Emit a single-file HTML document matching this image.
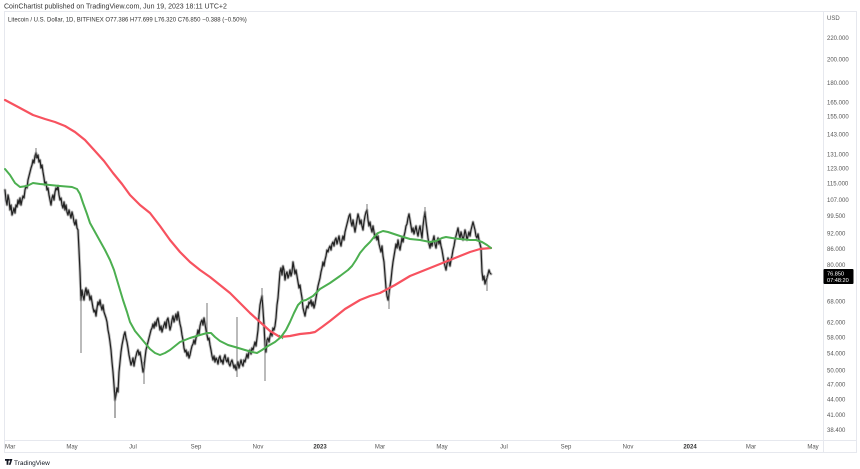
<!DOCTYPE html>
<html><head><meta charset="utf-8"><style>
html,body{margin:0;padding:0;background:#fff;}
svg{display:block;font-family:"Liberation Sans",sans-serif;}
</style></head><body>
<svg width="860" height="469" viewBox="0 0 860 469" xmlns="http://www.w3.org/2000/svg">
<rect width="860" height="469" fill="#fff"/>
<text x="4" y="8.5" font-size="7" fill="#333">CoinChartist published on TradingView.com, Jun 19, 2023 18:11 UTC+2</text>
<!-- frame -->
<rect x="4.5" y="11.5" width="852" height="441" fill="none" stroke="#e6e8ee" stroke-width="1"/>
<line x1="4" y1="440.5" x2="857" y2="440.5" stroke="#e6e8ee"/>
<line x1="823.5" y1="11" x2="823.5" y2="452" stroke="#e6e8ee"/>
<text x="8" y="21.5" font-size="6" fill="#333">Litecoin / U.S. Dollar, 1D, BITFINEX  O77.386  H77.699  L76.320  C76.850  −0.388 (−0.50%)</text>

<!-- price axis -->
<g font-size="6" fill="#555">
<text x="827" y="20">USD</text>
<text x="827" y="40">220.000</text>
<text x="827" y="61.4">200.000</text>
<text x="827" y="85.1">180.000</text>
<text x="827" y="104.6">165.000</text>
<text x="827" y="118.6">155.000</text>
<text x="827" y="136.7">143.000</text>
<text x="827" y="156.4">131.000</text>
<text x="827" y="170.5">123.000</text>
<text x="827" y="185.6">115.000</text>
<text x="827" y="201.8">107.000</text>
<text x="827" y="218.1">99.500</text>
<text x="827" y="235.7">92.000</text>
<text x="827" y="250.9">86.000</text>
<text x="827" y="267.1">80.000</text>
<text x="827" y="303.6">68.000</text>
<text x="827" y="324.4">62.000</text>
<text x="827" y="339.3">58.000</text>
<text x="827" y="355.4">54.000</text>
<text x="827" y="372.6">50.000</text>
<text x="827" y="386.5">47.000</text>
<text x="827" y="401.3">44.000</text>
<text x="827" y="417.2">41.000</text>
<text x="827" y="431.9">38.400</text>
</g>
<rect x="823.5" y="269" width="30" height="15" fill="#000" rx="1"/>
<text x="827" y="275.5" font-size="5.6" fill="#fff">76.850</text>
<text x="827" y="282" font-size="5.6" fill="#fff">07:48:20</text>

<!-- time axis -->
<g font-size="6" fill="#555" text-anchor="middle">
<text x="72" y="448.5">May</text>
<text x="133" y="448.5">Jul</text>
<text x="196" y="448.5">Sep</text>
<text x="258" y="448.5">Nov</text>
<text x="320" y="448.5" font-weight="bold" fill="#333">2023</text>
<text x="380" y="448.5">Mar</text>
<text x="442" y="448.5">May</text>
<text x="504" y="448.5">Jul</text>
<text x="566" y="448.5">Sep</text>
<text x="628" y="448.5">Nov</text>
<text x="690" y="448.5" font-weight="bold" fill="#333">2024</text>
<text x="751" y="448.5">Mar</text>
<text x="813" y="448.5">May</text>
</g>
<svg x="5" y="440" width="20" height="12"><text x="0" y="8.5" font-size="6" fill="#555">Mar</text></svg>

<!-- price series -->
<g fill="none" stroke-linejoin="round" stroke-linecap="round">
<polyline stroke="#8a8a8a" stroke-width="3" opacity="0.55" points="5,190 6,200 7,205 8,195 9,200 10,210 11,205 12,215 13,212 14,208 15,213 16,205 17,207 18,200 19,204 20,198 21,205 22,200 23,196 24,198 25,190 26,186 27,188 28,180 29,176 30,172 31,168 32,165 33,160 34,163 35,156 36,153 37,158 38,155 39,162 40,160 41,168 42,165 43,172 44,178 45,185 46,182 47,190 48,188 49,195 50,200 51,205 52,198 53,195 54,200 55,192 56,188 57,190 58,186 59,195 60,200 61,198 62,205 63,208 64,202 65,210 66,205 67,212 68,215 69,210 70,214 71,218 72,212 73,216 74,222 75,225 76,220 77,228 78,230 79,250 80,272 81,300 82,290 83,296 84,300 85,292 86,288 87,295 88,290 89,294 90,300 91,296 92,302 93,308 94,312 95,310 96,316 97,308 98,302 99,305 100,300 101,306 102,310 103,305 104,312 105,315 106,318 107,322 108,330 109,335 110,342 111,350 112,362 113,372 114,385 115,400 116,395 117,388 118,392 119,372 120,362 121,352 122,345 123,340 124,335 125,332 126,338 127,342 128,348 129,355 130,360 131,365 132,362 133,358 134,366 135,360 136,356 137,352 138,350 139,355 140,352 141,358 142,365 143,372 144,368 145,358 146,350 147,346 148,342 149,338 150,334 151,330 152,328 153,324 154,328 155,322 156,326 157,320 158,318 159,324 160,330 161,326 162,332 163,328 164,325 165,322 166,328 167,320 168,318 169,324 170,330 171,326 172,320 173,316 174,322 175,318 176,314 177,320 178,312 179,318 180,324 181,328 182,335 183,340 184,348 185,352 186,350 187,356 188,352 189,358 190,355 191,350 192,346 193,344 194,340 195,344 196,338 197,335 198,330 199,334 200,326 201,322 202,320 203,325 204,318 205,324 206,330 207,335 208,340 209,338 210,345 211,350 212,356 213,360 214,356 215,362 216,358 217,360 218,364 219,358 220,356 221,362 222,360 223,364 224,358 225,355 226,360 227,362 228,358 229,364 230,366 231,362 232,360 233,364 234,368 235,365 236,370 237,366 238,362 239,368 240,364 241,360 242,364 243,366 244,360 245,362 246,358 247,354 248,358 249,352 250,350 251,354 252,348 253,350 254,346 255,342 256,346 257,338 258,330 259,315 260,305 261,300 262,296 263,310 264,325 265,345 266,352 267,340 268,338 269,342 270,336 271,332 272,336 273,328 274,330 275,326 276,318 277,305 278,298 279,285 280,272 281,268 282,275 283,266 284,270 285,280 286,274 287,272 288,278 289,275 290,270 291,276 292,272 293,262 294,268 295,274 296,270 297,276 298,282 299,288 300,285 301,292 302,298 303,308 304,312 305,316 306,310 307,306 308,308 309,302 310,304 311,300 312,306 313,302 314,308 315,304 316,298 317,292 318,286 319,282 320,278 321,272 322,268 323,262 324,266 325,260 326,256 327,250 328,252 329,248 330,246 331,250 332,244 333,242 334,246 335,240 336,238 337,244 338,240 339,236 340,242 341,246 342,240 343,236 344,240 345,232 346,228 347,224 348,220 349,216 350,214 351,222 352,226 353,220 354,226 355,232 356,226 357,220 358,214 359,218 360,224 361,220 362,226 363,230 364,222 365,216 366,212 367,210 368,220 369,226 370,222 371,228 372,232 373,226 374,232 375,238 376,234 377,240 378,236 379,244 380,248 381,252 382,246 383,256 384,262 385,275 386,288 387,296 388,300 389,294 390,286 391,280 392,270 393,262 394,256 395,250 396,244 397,248 398,240 399,246 400,250 401,244 402,238 403,242 404,236 405,232 406,226 407,224 408,218 409,214 410,220 411,226 412,232 413,228 414,234 415,230 416,226 417,232 418,236 419,230 420,226 421,232 422,238 423,226 424,218 425,212 426,222 427,230 428,238 429,244 430,248 431,242 432,246 433,240 434,236 435,244 436,248 437,242 438,238 439,244 440,240 441,246 442,250 443,256 444,262 445,266 446,270 447,264 448,258 449,262 450,266 451,260 452,256 453,250 454,246 455,240 456,236 457,232 458,228 459,234 460,238 461,232 462,236 463,240 464,236 465,230 466,234 467,240 468,236 469,232 470,236 471,230 472,226 473,222 474,226 475,230 476,236 477,238 478,234 479,240 480,244 481,248 482,272 483,280 484,276 485,284 486,280 487,278 488,274 489,270 490,273 491,274"/>
<polyline stroke="#222" stroke-width="1.2" points="5,190 6,200 7,205 8,195 9,200 10,210 11,205 12,215 13,212 14,208 15,213 16,205 17,207 18,200 19,204 20,198 21,205 22,200 23,196 24,198 25,190 26,186 27,188 28,180 29,176 30,172 31,168 32,165 33,160 34,163 35,156 36,153 37,158 38,155 39,162 40,160 41,168 42,165 43,172 44,178 45,185 46,182 47,190 48,188 49,195 50,200 51,205 52,198 53,195 54,200 55,192 56,188 57,190 58,186 59,195 60,200 61,198 62,205 63,208 64,202 65,210 66,205 67,212 68,215 69,210 70,214 71,218 72,212 73,216 74,222 75,225 76,220 77,228 78,230 79,250 80,272 81,300 82,290 83,296 84,300 85,292 86,288 87,295 88,290 89,294 90,300 91,296 92,302 93,308 94,312 95,310 96,316 97,308 98,302 99,305 100,300 101,306 102,310 103,305 104,312 105,315 106,318 107,322 108,330 109,335 110,342 111,350 112,362 113,372 114,385 115,400 116,395 117,388 118,392 119,372 120,362 121,352 122,345 123,340 124,335 125,332 126,338 127,342 128,348 129,355 130,360 131,365 132,362 133,358 134,366 135,360 136,356 137,352 138,350 139,355 140,352 141,358 142,365 143,372 144,368 145,358 146,350 147,346 148,342 149,338 150,334 151,330 152,328 153,324 154,328 155,322 156,326 157,320 158,318 159,324 160,330 161,326 162,332 163,328 164,325 165,322 166,328 167,320 168,318 169,324 170,330 171,326 172,320 173,316 174,322 175,318 176,314 177,320 178,312 179,318 180,324 181,328 182,335 183,340 184,348 185,352 186,350 187,356 188,352 189,358 190,355 191,350 192,346 193,344 194,340 195,344 196,338 197,335 198,330 199,334 200,326 201,322 202,320 203,325 204,318 205,324 206,330 207,335 208,340 209,338 210,345 211,350 212,356 213,360 214,356 215,362 216,358 217,360 218,364 219,358 220,356 221,362 222,360 223,364 224,358 225,355 226,360 227,362 228,358 229,364 230,366 231,362 232,360 233,364 234,368 235,365 236,370 237,366 238,362 239,368 240,364 241,360 242,364 243,366 244,360 245,362 246,358 247,354 248,358 249,352 250,350 251,354 252,348 253,350 254,346 255,342 256,346 257,338 258,330 259,315 260,305 261,300 262,296 263,310 264,325 265,345 266,352 267,340 268,338 269,342 270,336 271,332 272,336 273,328 274,330 275,326 276,318 277,305 278,298 279,285 280,272 281,268 282,275 283,266 284,270 285,280 286,274 287,272 288,278 289,275 290,270 291,276 292,272 293,262 294,268 295,274 296,270 297,276 298,282 299,288 300,285 301,292 302,298 303,308 304,312 305,316 306,310 307,306 308,308 309,302 310,304 311,300 312,306 313,302 314,308 315,304 316,298 317,292 318,286 319,282 320,278 321,272 322,268 323,262 324,266 325,260 326,256 327,250 328,252 329,248 330,246 331,250 332,244 333,242 334,246 335,240 336,238 337,244 338,240 339,236 340,242 341,246 342,240 343,236 344,240 345,232 346,228 347,224 348,220 349,216 350,214 351,222 352,226 353,220 354,226 355,232 356,226 357,220 358,214 359,218 360,224 361,220 362,226 363,230 364,222 365,216 366,212 367,210 368,220 369,226 370,222 371,228 372,232 373,226 374,232 375,238 376,234 377,240 378,236 379,244 380,248 381,252 382,246 383,256 384,262 385,275 386,288 387,296 388,300 389,294 390,286 391,280 392,270 393,262 394,256 395,250 396,244 397,248 398,240 399,246 400,250 401,244 402,238 403,242 404,236 405,232 406,226 407,224 408,218 409,214 410,220 411,226 412,232 413,228 414,234 415,230 416,226 417,232 418,236 419,230 420,226 421,232 422,238 423,226 424,218 425,212 426,222 427,230 428,238 429,244 430,248 431,242 432,246 433,240 434,236 435,244 436,248 437,242 438,238 439,244 440,240 441,246 442,250 443,256 444,262 445,266 446,270 447,264 448,258 449,262 450,266 451,260 452,256 453,250 454,246 455,240 456,236 457,232 458,228 459,234 460,238 461,232 462,236 463,240 464,236 465,230 466,234 467,240 468,236 469,232 470,236 471,230 472,226 473,222 474,226 475,230 476,236 477,238 478,234 479,240 480,244 481,248 482,272 483,280 484,276 485,284 486,280 487,278 488,274 489,270 490,273 491,274"/>
</g>
<!-- long wicks -->
<g stroke="#555" stroke-width="0.8">
<line x1="81" y1="296" x2="81" y2="353"/>
<line x1="115" y1="392" x2="115" y2="418"/>
<line x1="144" y1="362" x2="144" y2="384"/>
<line x1="207" y1="303" x2="207" y2="335"/>
<line x1="237" y1="317" x2="237" y2="377"/>
<line x1="265" y1="340" x2="265" y2="381"/>
<line x1="262" y1="288" x2="262" y2="300"/>
<line x1="389" y1="290" x2="389" y2="309"/>
<line x1="367" y1="204" x2="367" y2="214"/>
<line x1="425" y1="207" x2="425" y2="216"/>
<line x1="487" y1="276" x2="487" y2="291"/>
<line x1="36" y1="148" x2="36" y2="158"/>
<line x1="115" y1="400" x2="115" y2="418"/>
</g>

<!-- moving averages -->
<polyline fill="none" stroke="#f7525f" stroke-width="2.2" stroke-linejoin="round" stroke-linecap="round" points="5,100 20,108 33,115 45,119 55,122 65,126 75,132 85,140 95,151 104,161 113,173 122,184 130,195 140,205 150,213 160,226 170,240 180,252 190,262 200,270 210,277 220,285 230,293 240,303 250,313 260,322 270,331 280,337 290,336 300,334 310,333 315,332 322,327 330,321 345,309 360,300 370,296 380,293 395,285 410,276 420,272 430,268 445,262 460,256 470,252 480,249 491,248"/>
<polyline fill="none" stroke="#4caf50" stroke-width="2" stroke-linejoin="round" stroke-linecap="round" points="5,169 10,175 15,183 20,187 27,186 33,183 40,184 50,185 60,186 72,187 77,189 80,194 83,203 87,214 90,223 95,232 100,241 105,250 110,260 114,270 117,280 120,290 123,300 127,312 130,322 135,331 140,337 145,343 150,349 155,353 160,355 165,353 170,350 175,346 180,342 190,338 200,335 207,333 211,333 215,337 220,341 228,345 235,347 245,350 252,352 257,353 262,350 268,346 275,342 281,337 286,330 290,322 294,313 298,305 302,301 306,300 313,296 320,289 330,283 340,276 348,270 352,266 356,260 360,253 365,247 370,242 374,237 378,233 383,231 388,232 394,234 400,236 410,239 420,240 430,242 436,241 442,238 446,237 452,238 460,239 470,240 476,240 482,242 487,245 491,248"/>
<g stroke="#4caf50" stroke-width="1"><line x1="279" y1="335" x2="283" y2="339"/><line x1="283" y1="335" x2="279" y2="339"/></g>

<!-- TradingView logo -->
<g fill="#131722">
<rect x="5" y="459" width="4.2" height="1.8"/>
<rect x="6.6" y="459" width="1.8" height="5.8"/>
<polygon points="9.4,459 12.4,459 10.6,464.8 8.8,464.8 10.2,461"/>
<circle cx="10" cy="459.9" r="0.9"/>
</g>
<text x="14" y="465" font-size="6.5" fill="#131722">TradingView</text>
</svg>
</body></html>
